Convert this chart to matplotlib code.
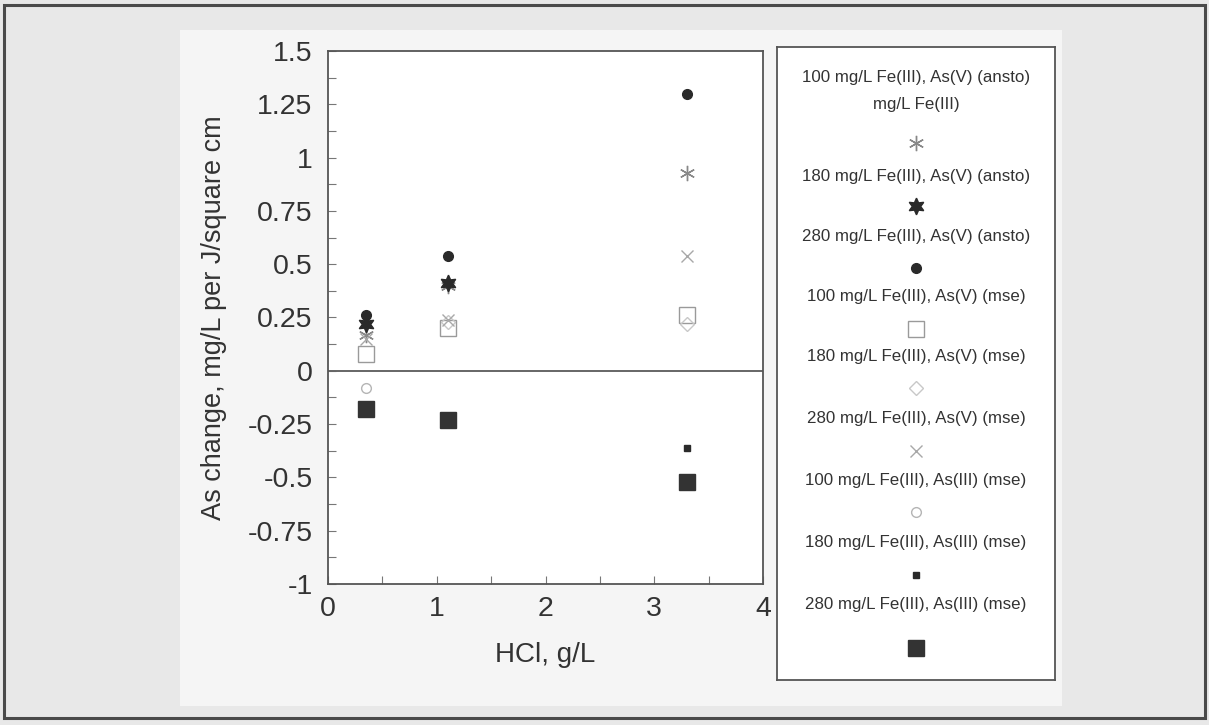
import numpy as np
import matplotlib
matplotlib.use("Agg")
import matplotlib.pyplot as plt
from matplotlib.patches import Rectangle
from matplotlib.ticker import MultipleLocator

plt.rcParams['font.family'] = ['Liberation Sans', 'DejaVu Sans']

# HCl concentration, g/L
hcl = [0.35, 1.1, 3.3]

# As change, mg/L per J/square cm (nan = no point shown)
fe100_asv_ansto = [0.17, 0.40, 0.93]
fe180_asv_ansto = [0.22, 0.41, np.nan]
fe280_asv_ansto = [0.26, 0.54, 1.30]
fe100_asv_mse = [0.08, 0.20, 0.26]
fe180_asv_mse = [np.nan, 0.23, 0.22]
fe280_asv_mse = [0.15, 0.24, 0.54]
fe100_asiii_mse = [-0.08, np.nan, np.nan]
fe180_asiii_mse = [np.nan, np.nan, -0.36]
fe280_asiii_mse = [-0.18, -0.23, -0.52]

labels = ["100 mg/L Fe(III), As(V) (ansto)\nmg/L Fe(III)",
          "180 mg/L Fe(III), As(V) (ansto)",
          "280 mg/L Fe(III), As(V) (ansto)",
          "100 mg/L Fe(III), As(V) (mse)",
          "180 mg/L Fe(III), As(V) (mse)",
          "280 mg/L Fe(III), As(V) (mse)",
          "100 mg/L Fe(III), As(III) (mse)",
          "180 mg/L Fe(III), As(III) (mse)",
          "280 mg/L Fe(III), As(III) (mse)"]

series = [fe100_asv_ansto, fe180_asv_ansto, fe280_asv_ansto,
          fe100_asv_mse, fe180_asv_mse, fe280_asv_mse,
          fe100_asiii_mse, fe180_asiii_mse, fe280_asiii_mse]

# marker styles: (marker, size, face, edge, edge width)
styles = [((6, 2, 0), 11, 'none', '#888888', 1.0),
          ((6, 1, 0), 12, '#2a2a2a', '#2a2a2a', 1.0),
          ('o', 7, '#2a2a2a', '#2a2a2a', 1.0),
          ('s', 11, 'none', '#9a9a9a', 1.0),
          ('D', 7, 'none', '#c8c8c8', 1.0),
          ('x', 8, 'none', '#a8a8a8', 1.0),
          ('o', 7, 'none', '#b5b5b5', 1.0),
          ('s', 4, '#2a2a2a', '#2a2a2a', 1.0),
          ('s', 11, '#333333', '#333333', 1.0)]

W, H = 1209, 725
fig = plt.figure(figsize=(W / 100, H / 100), dpi=100)
fig.patch.set_facecolor('#e8e8e8')

# page frame and lighter inner panel (behind the axes)
fig.patches.append(Rectangle((180 / W, 1 - 706 / H), 882 / W, 676 / H,
                             transform=fig.transFigure, facecolor='#f5f5f5',
                             edgecolor='none', zorder=-2))
fig.patches.append(Rectangle((4 / W, 1 - 718 / H), 1201 / W, 713 / H,
                             transform=fig.transFigure, facecolor='none',
                             edgecolor='#4a4a4a', lw=2.2, zorder=-1))

ax = fig.add_axes([328 / W, 1 - 584 / H, 435 / W, 533 / H])
ax.set_facecolor('white')
for (m, ms, fc, ec, ew), y in zip(styles, series):
    ax.plot(hcl, y, linestyle='none', marker=m, markersize=ms,
            markerfacecolor=fc, markeredgecolor=ec, markeredgewidth=ew)

ax.axhline(0, color='#666666', lw=1.4)
ax.set_xlim(0, 4)
ax.set_ylim(-1, 1.5)
ax.xaxis.set_major_locator(MultipleLocator(1))
ax.xaxis.set_minor_locator(MultipleLocator(0.5))
ax.yaxis.set_major_locator(MultipleLocator(0.25))
ax.yaxis.set_minor_locator(MultipleLocator(0.125))
ax.yaxis.set_major_formatter(plt.FuncFormatter(lambda v, p: f"{v:g}"))
ax.tick_params(which='both', direction='in', length=6, width=0.8,
               color='#777777', labelsize=20.5, labelcolor='#333333')
ax.tick_params(axis='x', pad=9)
ax.tick_params(axis='y', pad=11)
for s in ax.spines.values():
    s.set_color('#555555')
    s.set_linewidth(1.3)
ax.set_xlabel("HCl, g/L", fontsize=20, color='#333333',
              ha='center', va='center')
ax.set_ylabel("As change, mg/L per J/square cm", fontsize=19.5,
              color='#333333', ha='center', va='center')
ax.xaxis.set_label_coords(0.5, -0.133)
ax.yaxis.set_label_coords(-0.262, 0.5)

# legend box drawn by hand: text above each marker
lg = fig.add_axes([777 / W, 1 - 680 / H, 278 / W, 633 / H])
lg.set_xlim(0, 278)
lg.set_ylim(680, 47)
lg.set_xticks([])
lg.set_yticks([])
for s in lg.spines.values():
    s.set_color('#555555')
    s.set_linewidth(1.3)
text_y = [91, 176, 236, 297, 357, 419, 481, 543, 605]
mark_y = [143, 206, 268, 329, 388, 451, 512, 575, 648]
for lab, ty, my, (m, ms, fc, ec, ew) in zip(labels, text_y, mark_y, styles):
    lg.text(139, ty, lab, ha='center', va='center',
            fontsize=12.2, color='#333333', linespacing=1.95)
    lg.plot([139], [my], marker=m, markersize=ms, markerfacecolor=fc,
            markeredgecolor=ec, markeredgewidth=ew)

fig.savefig("out.png", dpi=100, facecolor=fig.get_facecolor())
